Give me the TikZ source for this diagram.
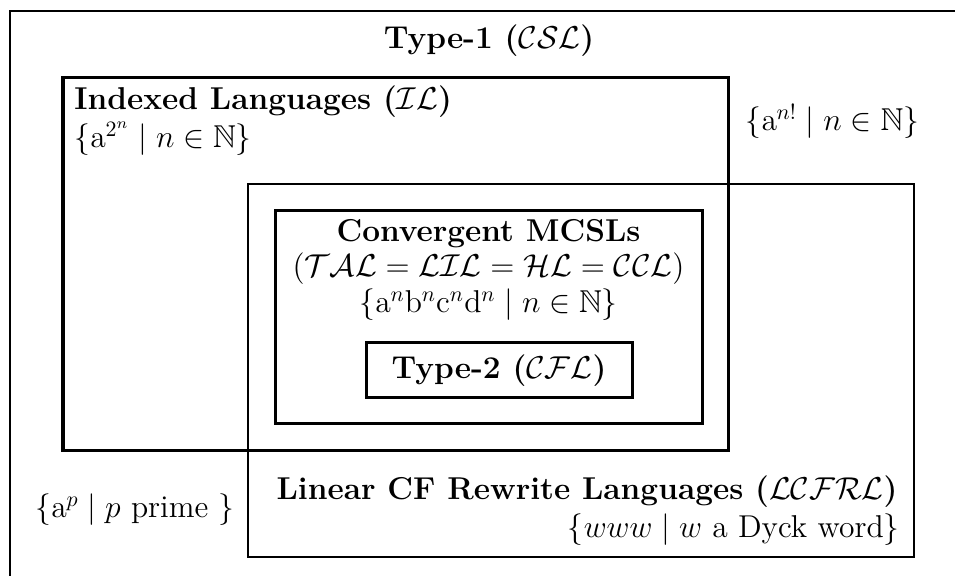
\documentclass[tikz,border=0pt]{standalone}
\usepackage{amsmath,amssymb}
\begin{document}
\begin{tikzpicture}[x=0.4557pt,y=-0.4557pt,
  thinbox/.style={draw,line width=0.64pt},
  thickbox/.style={draw,line width=1.37pt},
  lbl/.style={inner sep=0pt,font=\fontsize{14.4}{17}\selectfont}]
\useasboundingbox (0,0) rectangle (955,576);
\clip (0,0) rectangle (955,576);
% boxes
\coordinate (outA) at (10,11); \coordinate (outB) at (990,610);
\draw[thinbox] (outA) rectangle (outB);
\coordinate (ilA) at (63,78); \coordinate (ilB) at (728,451);
\draw[thickbox] (ilA) rectangle (ilB);
\coordinate (lcA) at (248,184); \coordinate (lcB) at (914,557);
\draw[thinbox] (lcA) rectangle (lcB);
\coordinate (cvA) at (275,211); \coordinate (cvB) at (702,424);
\draw[thickbox] (cvA) rectangle (cvB);
\coordinate (t2A) at (366,343); \coordinate (t2B) at (632,398);
\draw[thickbox] (t2A) rectangle (t2B);
% texts
\node[lbl,anchor=base] (type1) at (489,49) {\textbf{Type-1 (}$\mathcal{CSL}$\textbf{)}};
\node[lbl,anchor=base west] (il) at (74,110) {\textbf{Indexed Languages (}$\mathcal{IL}$\textbf{)}};
\node[lbl,anchor=base west] (ilex) at (74,148) {$\{\mathrm{a}^{2^n}\mid n\in\mathbb{N}\}$};
\node[lbl,anchor=base west] (fact) at (745,131) {$\{\mathrm{a}^{n!}\mid n\in\mathbb{N}\}$};
\node[lbl,anchor=base] (conv) at (488.5,242) {\textbf{Convergent MCSLs}};
\node[lbl,anchor=base] (conv2) at (488.5,277) {$(\mathcal{TAL}=\mathcal{LIL}=\mathcal{HL}=\mathcal{CCL})$};
\node[lbl,anchor=base] (conv3) at (488.5,313) {$\{\mathrm{a}^n\mathrm{b}^n\mathrm{c}^n\mathrm{d}^n\mid n\in\mathbb{N}\}$};
\node[lbl] (type2) at (499,370.5) {\textbf{Type-2 (}$\mathcal{CFL}$\textbf{)}};
\node[lbl,anchor=base west] (prime) at (35,518) {$\{\mathrm{a}^p\mid p \text{ prime }\}$};
\node[lbl,anchor=base east] (lcfrl) at (898,500) {\textbf{Linear CF Rewrite Languages (}$\mathcal{LCFRL}$\textbf{)}};
\node[lbl,anchor=base east] (dyck) at (900,538) {$\{www\mid w\text{ a Dyck word}\}$};
\end{tikzpicture}
\end{document}
